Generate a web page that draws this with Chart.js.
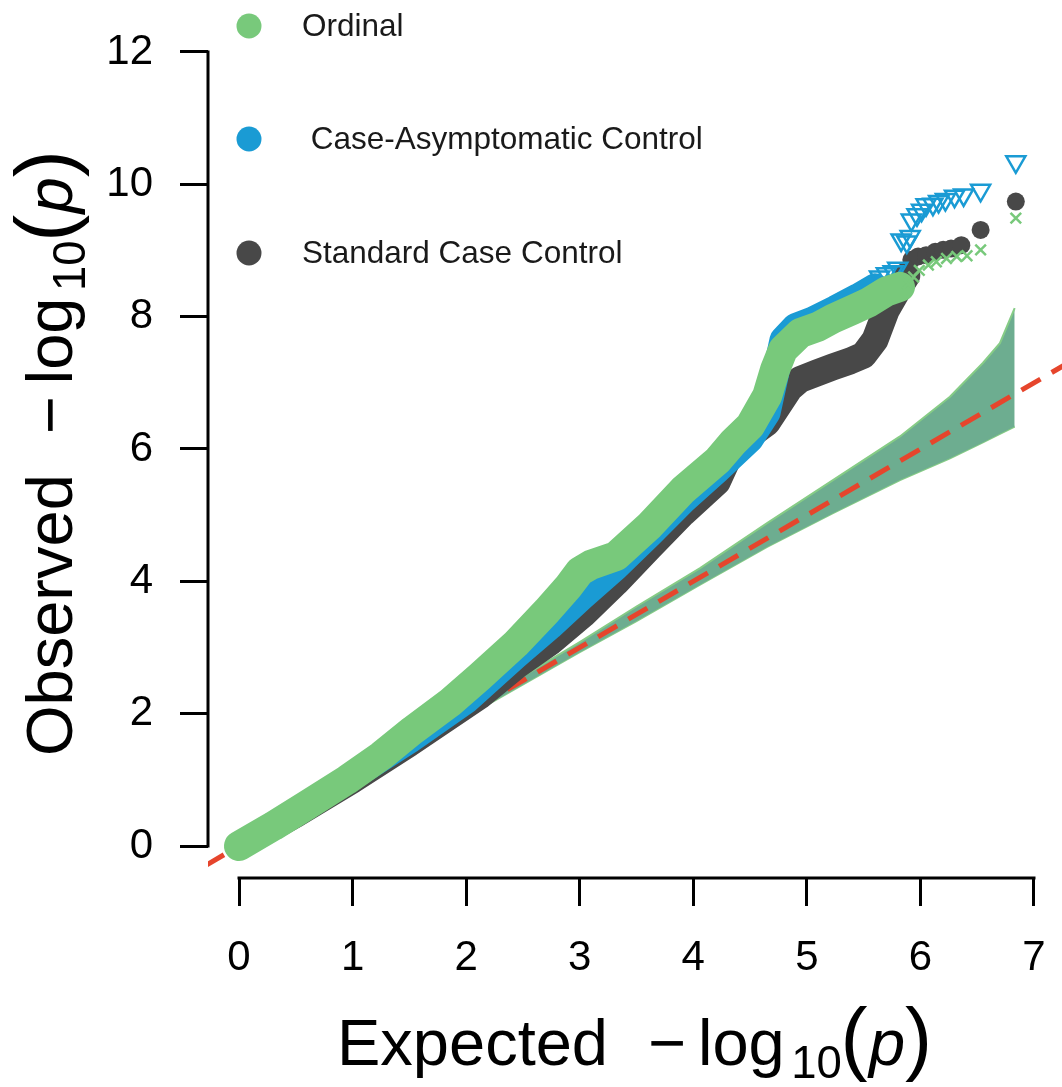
<!DOCTYPE html>
<html><head><meta charset="utf-8">
<script src="https://cdn.jsdelivr.net/npm/chart.js@4.4.1/dist/chart.umd.min.js"></script>
<style>html,body{margin:0;padding:0;background:#fff;overflow:hidden}canvas{display:block}</style>
</head><body>
<canvas id="c" width="1062" height="1087"></canvas>
<script>
// ---- tick labels / legend ----
const xTicks = [0, 1, 2, 3, 4, 5, 6, 7];
const yTicks = [0, 2, 4, 6, 8, 10, 12];
const legendLabels = ['Ordinal', ' Case-Asymptomatic Control', 'Standard Case Control'];

// ---- Ordinal (green): dense part and top hits (x marks) ----
const ordX = [0, 0.3, 0.6, 0.95, 1.25, 1.53, 1.86, 2.12, 2.44, 2.71, 2.9, 3.0, 3.1, 3.32, 3.62, 3.91, 4.21, 4.35, 4.5, 4.65, 4.72, 4.79, 4.94, 5.1, 5.23, 5.4, 5.55, 5.7, 5.82];
const ordY = [0, 0.3, 0.62, 1.0, 1.36, 1.75, 2.17, 2.56, 3.06, 3.55, 3.92, 4.15, 4.25, 4.38, 4.85, 5.38, 5.82, 6.1, 6.35, 6.8, 7.2, 7.5, 7.75, 7.85, 7.97, 8.1, 8.22, 8.38, 8.45];
const ordTopX = [5.89, 5.94, 5.99, 6.07, 6.14, 6.23, 6.32, 6.41, 6.53, 6.84];
const ordTopY = [8.50, 8.60, 8.70, 8.78, 8.83, 8.88, 8.91, 8.92, 9.01, 9.49];

// ---- Case-Asymptomatic Control (blue): dense part and top hits (triangles) ----
const caseX = [0, 0.5, 1.0, 1.5, 2.0, 2.44, 2.74, 3.03, 3.32, 3.62, 3.91, 4.21, 4.5, 4.65, 4.79, 4.9, 5.05, 5.25, 5.45, 5.6];
const caseY = [0, 0.5, 1.05, 1.6, 2.2, 2.88, 3.32, 3.78, 4.22, 4.72, 5.22, 5.68, 6.15, 6.55, 7.65, 7.85, 7.95, 8.12, 8.3, 8.45];
const caseTopX = [5.64, 5.70, 5.76, 5.80, 5.83, 5.88, 5.91, 5.92, 5.97, 6.01, 6.05, 6.11, 6.16, 6.22, 6.30, 6.38, 6.53, 6.84];
const caseTopY = [8.60, 8.65, 8.68, 8.73, 9.16, 9.13, 9.21, 9.46, 9.54, 9.61, 9.69, 9.70, 9.74, 9.77, 9.82, 9.84, 9.91, 10.34];

// ---- Standard Case Control (dark grey): dense part and top hits (dots) ----
const stdX = [0, 0.5, 1.0, 1.5, 2.12, 2.44, 2.74, 3.03, 3.32, 3.62, 3.91, 4.21, 4.35, 4.65, 4.85, 4.94, 5.09, 5.23, 5.38, 5.5, 5.6, 5.7, 5.8, 5.88];
const stdY = [0, 0.48, 1.0, 1.55, 2.27, 2.72, 3.08, 3.5, 3.98, 4.52, 5.03, 5.5, 6.02, 6.4, 6.92, 7.05, 7.15, 7.24, 7.33, 7.42, 7.65, 8.1, 8.4, 8.62];
const stdTopX = [5.92, 5.98, 6.05, 6.13, 6.20, 6.27, 6.36, 6.53, 6.84];
const stdTopY = [8.86, 8.91, 8.93, 8.98, 9.01, 9.03, 9.08, 9.31, 9.74];

// ---- null expectation (y = x) and its confidence band ----
const refX = [-0.3, 7.3];
const refY = [-0.3, 7.3];
const ciX = [0, 1, 2, 3, 3.5, 4.06, 4.65, 5.23, 5.82, 6.26, 6.55, 6.70, 6.83];
const ciHigh = [0.03, 1.04, 2.05, 3.08, 3.62, 4.2, 4.88, 5.53, 6.19, 6.79, 7.30, 7.60, 8.13];
const ciLow = [-0.03, 0.96, 1.95, 2.93, 3.4, 3.95, 4.52, 5.03, 5.53, 5.86, 6.10, 6.23, 6.34];

const GREEN = '#78c97b', BLUE = '#1a9bd4', GREY = '#484848', RED = '#e6452c';
const FAM = '"Liberation Sans", Arial, Helvetica, sans-serif';
const pts = (xs, ys) => xs.map((x, i) => ({x: x, y: ys[i]}));

function drawMath(ctx, main, F, x0, y0, rot) {
  ctx.save();
  ctx.translate(x0, y0);
  if (rot) ctx.rotate(-Math.PI / 2);
  ctx.fillStyle = '#000';
  ctx.textAlign = 'left';
  ctx.textBaseline = 'alphabetic';
  let x = 0;
  ctx.font = F + 'px ' + FAM;
  ctx.fillText(main, x, 0); x += ctx.measureText(main).width + 0.62 * F;
  ctx.fillText('\u2212', x, 0); x += ctx.measureText('\u2212').width + 0.18 * F;
  ctx.fillText('log', x, 0); x += ctx.measureText('log').width + 0.1 * F;
  const S = 0.7 * F;
  ctx.font = S + 'px ' + FAM;
  ctx.fillText('10', x, 0.2 * F); x += ctx.measureText('10').width - 0.02 * F;
  const P = 1.25 * F;
  ctx.font = P + 'px ' + FAM;
  ctx.fillText('(', x, 0); x += ctx.measureText('(').width + 0.02 * F;
  ctx.font = 'italic ' + F + 'px ' + FAM;
  ctx.fillText('p', x, 0); x += ctx.measureText('p').width;
  ctx.font = P + 'px ' + FAM;
  ctx.fillText(')', x, 0);
  ctx.restore();
}

const decor = {
  id: 'decor',
  afterDraw(chart) {
    const ctx = chart.ctx, xs = chart.scales.x, ys = chart.scales.y, ca = chart.chartArea;
    ctx.save();
    ctx.strokeStyle = '#000';
    ctx.lineWidth = 3;
    ctx.lineCap = 'square';
    ctx.beginPath();
    ctx.moveTo(xs.getPixelForValue(xTicks[0]), ca.bottom);
    ctx.lineTo(xs.getPixelForValue(xTicks[xTicks.length - 1]), ca.bottom);
    ctx.moveTo(ca.left, ys.getPixelForValue(yTicks[0]));
    ctx.lineTo(ca.left, ys.getPixelForValue(yTicks[yTicks.length - 1]));
    ctx.stroke();
    ctx.restore();

    // axis titles
    drawMath(ctx, 'Expected', 65, 337, 1065, false);
    drawMath(ctx, 'Observed', 65, 72, 756, true);

    // legend
    const cols = [GREEN, BLUE, GREY];
    const cy = [26, 139, 253];
    ctx.save();
    ctx.font = '31.5px ' + FAM;
    ctx.textBaseline = 'middle';
    ctx.textAlign = 'left';
    for (let i = 0; i < 3; i++) {
      ctx.fillStyle = cols[i];
      ctx.beginPath();
      ctx.arc(249, cy[i], 12.5, 0, Math.PI * 2);
      ctx.fill();
      ctx.fillStyle = '#1a1a1a';
      ctx.fillText(legendLabels[i], 302, cy[i] + 1);
    }
    ctx.restore();
  }
};

const bandLine = (label, xs, ys, col, ord, w) => ({
  label: label, data: pts(xs, ys), borderColor: col, backgroundColor: col,
  borderWidth: w, borderCapStyle: 'round', borderJoinStyle: 'round',
  pointRadius: 0, tension: 0, fill: false, order: ord
});

new Chart(document.getElementById('c'), {
  type: 'line',
  data: {
    datasets: [
      {label: 'Ordinal top', data: pts(ordTopX, ordTopY), showLine: false, pointStyle: 'crossRot',
       pointRadius: 7.5, pointBorderWidth: 2.5, borderColor: GREEN, backgroundColor: GREEN, order: 0},
      bandLine('Ordinal', ordX, ordY, GREEN, 1, 30),
      {label: 'Case top', data: pts(caseTopX, caseTopY), showLine: false, pointStyle: 'triangle', rotation: 180,
       pointRadius: 11, pointBorderWidth: 2.5, borderColor: BLUE, backgroundColor: 'rgba(255,255,255,0)', order: 2},
      bandLine('Case-Asymptomatic Control', caseX, caseY, BLUE, 3, 27),
      {label: 'Std top', data: pts(stdTopX, stdTopY), showLine: false, pointStyle: 'circle',
       pointRadius: 9, pointBorderWidth: 0, borderColor: GREY, backgroundColor: GREY, order: 4},
      bandLine('Standard Case Control', stdX, stdY, GREY, 5, 27),
      {label: 'y=x', data: pts(refX, refY), borderColor: RED, borderWidth: 5, borderDash: [22, 13],
       pointRadius: 0, fill: false, order: 6},
      {label: 'CI high', data: pts(ciX, ciHigh), borderColor: '#86cc86', borderWidth: 2,
       backgroundColor: '#6dad90', pointRadius: 0, fill: '+1', order: 7},
      {label: 'CI low', data: pts(ciX, ciLow), borderColor: '#86cc86', borderWidth: 2,
       pointRadius: 0, fill: false, order: 8}
    ]
  },
  options: {
    responsive: false, animation: false, devicePixelRatio: 1,
    layout: {autoPadding: false, padding: {top: 20, right: 0, left: 0, bottom: 0}},
    plugins: {legend: {display: false}, tooltip: {enabled: false}},
    scales: {
      x: {
        type: 'linear', min: -0.2730, max: 7.2466,
        afterFit(s) { s.height = 209; s.paddingLeft = 0; s.paddingRight = 0; },
        afterBuildTicks(s) { s.ticks = xTicks.map(v => ({value: v})); },
        border: {display: false},
        grid: {drawOnChartArea: false, drawTicks: true, tickLength: 28, color: '#000', lineWidth: 3},
        ticks: {font: {size: 42, family: FAM}, color: '#000', padding: 27, maxRotation: 0, autoSkip: false}
      },
      y: {
        type: 'linear', min: -0.4836, max: 12.4836,
        afterFit(s) { s.width = 208; s.paddingTop = 0; s.paddingBottom = 0; },
        afterBuildTicks(s) { s.ticks = yTicks.map(v => ({value: v})); },
        border: {display: false},
        grid: {drawOnChartArea: false, drawTicks: true, tickLength: 28, color: '#000', lineWidth: 3},
        ticks: {font: {size: 42, family: FAM}, color: '#000', padding: 27, autoSkip: false}
      }
    }
  },
  plugins: [decor]
});
</script>
</body></html>
